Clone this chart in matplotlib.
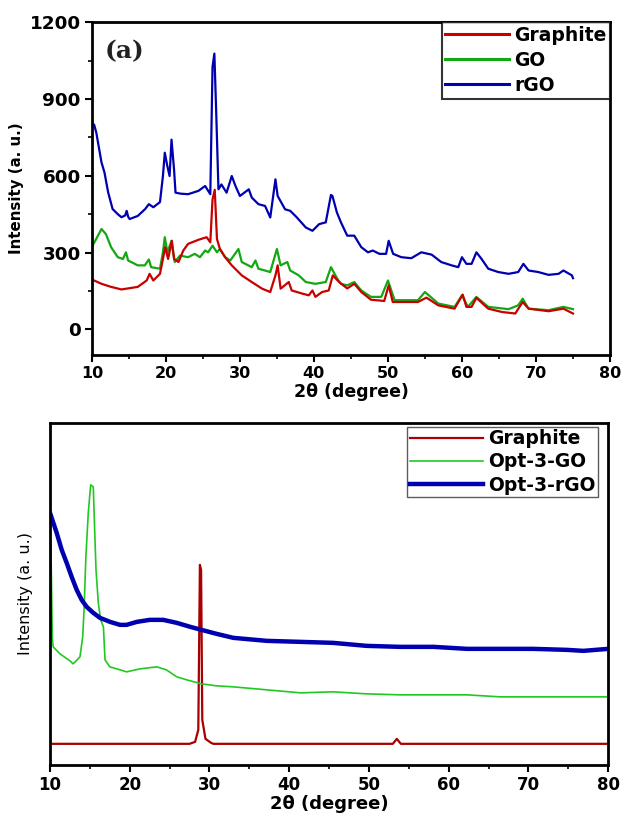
import matplotlib
matplotlib.use("Agg")
import matplotlib.pyplot as plt
from matplotlib.font_manager import FontProperties
from matplotlib.ticker import MultipleLocator, NullLocator

# ---------------- data: panel (a) ----------------
graphite_a = [(10.0, 195), (11.3, 178), (12.6, 166), (14.0, 156), (16.2, 166), (17.4, 191),
              (17.8, 217), (18.3, 191), (19.2, 217), (19.6, 275), (19.9, 321), (20.3, 275),
              (20.8, 346), (21.1, 275), (21.7, 263), (22.35, 308), (23.0, 334), (24.4, 350),
              (25.5, 360), (26.0, 340), (26.3, 508), (26.6, 545), (26.9, 353), (27.3, 314),
              (28.0, 282), (28.9, 250), (30.25, 211), (31.6, 185), (33.0, 159), (34.1, 146),
              (34.8, 211), (35.1, 250), (35.5, 159), (36.6, 185), (37.0, 152), (38.4, 140),
              (39.3, 133), (39.8, 152), (40.2, 127), (41.1, 146), (42.0, 152), (42.55, 211),
              (43.4, 185), (44.5, 160), (45.45, 178), (46.4, 146), (47.7, 116), (49.5, 111),
              (50.1, 172), (50.65, 107), (54.05, 107), (55.2, 124), (56.8, 94), (59.0, 81),
              (60.1, 136), (60.6, 88), (61.3, 88), (61.95, 123), (63.55, 81), (65.4, 68),
              (67.2, 62), (68.2, 107), (69.0, 81), (71.7, 71), (73.7, 81), (75.0, 62)]
go_a = [(10.0, 320), (10.1, 327), (11.3, 392), (11.9, 372), (12.6, 321), (13.5, 282),
        (14.2, 275), (14.6, 301), (14.9, 269), (16.2, 250), (17.15, 250), (17.7, 273),
        (18.0, 243), (19.2, 237), (19.6, 301), (19.85, 360), (20.2, 301), (20.76, 346),
        (21.2, 263), (21.9, 288), (23.0, 282), (23.9, 295), (24.6, 282), (25.3, 308),
        (25.7, 301), (26.3, 327), (26.9, 301), (27.3, 314), (28.0, 282), (28.7, 269),
        (29.8, 314), (30.25, 263), (31.6, 243), (32.1, 269), (32.5, 237), (34.1, 224),
        (35.0, 314), (35.5, 250), (36.4, 263), (36.8, 230), (37.95, 211), (38.9, 185),
        (40.2, 178), (41.6, 185), (42.3, 243), (43.15, 198), (43.65, 178), (44.5, 172),
        (45.45, 185), (46.4, 152), (47.7, 127), (49.1, 127), (50.0, 191), (50.9, 114),
        (54.05, 114), (55.0, 146), (56.8, 101), (59.0, 88), (60.0, 133), (60.8, 88),
        (61.95, 127), (63.55, 88), (66.3, 79), (67.6, 94), (68.2, 120), (69.0, 81),
        (71.7, 75), (73.7, 88), (75.0, 79)]
rgo_a = [(10.0, 790), (10.3, 800), (10.6, 768), (11.3, 652), (11.7, 613), (12.2, 535),
         (12.8, 470), (13.5, 450), (14.0, 438), (14.5, 445), (14.7, 463), (14.9, 440),
         (15.1, 431), (16.2, 443), (17.2, 470), (17.7, 489), (18.3, 477), (19.2, 497),
         (19.6, 599), (19.85, 690), (20.2, 637), (20.5, 599), (20.76, 741), (21.1, 625),
         (21.3, 534), (22.0, 530), (23.0, 528), (24.4, 541), (25.3, 560), (26.0, 528),
         (26.3, 1025), (26.55, 1077), (26.8, 846), (27.1, 547), (27.5, 566), (28.2, 534),
         (28.9, 599), (29.4, 560), (30.0, 521), (31.2, 547), (31.6, 515), (32.5, 489),
         (33.4, 482), (34.1, 437), (34.8, 586), (35.1, 521), (36.1, 469), (36.8, 463),
         (37.7, 437), (38.9, 398), (39.8, 385), (40.7, 411), (41.6, 418), (42.3, 525),
         (42.5, 521), (43.1, 457), (43.65, 418), (44.5, 366), (45.45, 366), (46.4, 321),
         (47.3, 301), (47.95, 308), (48.85, 295), (49.75, 295), (50.1, 346), (50.7, 295),
         (51.8, 282), (53.15, 278), (54.5, 301), (55.9, 292), (57.2, 263), (58.6, 250),
         (59.5, 243), (60.0, 282), (60.6, 256), (61.3, 256), (61.95, 301), (62.65, 275),
         (63.55, 237), (64.9, 224), (66.3, 217), (67.6, 224), (68.3, 256), (69.0, 230),
         (70.3, 224), (71.7, 213), (73.05, 217), (73.7, 230), (74.85, 211), (75.0, 200)]
labels_a = ["Graphite", "GO", "rGO"]
yticks_a = [0, 300, 600, 900, 1200]
xticks = [10, 20, 30, 40, 50, 60, 70, 80]

# ---------------- data: panel (b), arbitrary units ----------------
graphite_b = [(10.0, 21), (27.5, 21), (28.2, 23), (28.6, 35), (28.8, 200), (28.95, 195),
              (29.1, 45), (29.5, 26), (30.2, 22), (30.5, 21), (53.0, 21), (53.5, 26),
              (54.0, 21), (80.0, 21)]
go_b = [(10.0, 240), (10.15, 200), (10.3, 125), (10.4, 118), (11.25, 111), (12.5, 104),
        (12.9, 101), (13.76, 108), (14.1, 128), (14.27, 155), (14.5, 208), (14.8, 252),
        (15.1, 280), (15.43, 278), (15.56, 245), (15.77, 195), (16.06, 162), (16.36, 145),
        (16.7, 138), (16.9, 105), (17.5, 98), (18.8, 95), (19.6, 93), (21.3, 96),
        (23.4, 98), (24.6, 95), (25.9, 88), (27.15, 85), (29.0, 81), (30.9, 79),
        (33.0, 78), (37.2, 75), (41.4, 72), (45.5, 73), (49.7, 71), (53.9, 70),
        (58.1, 70), (62.3, 70), (66.45, 68), (70.6, 68), (74.8, 68), (80.0, 68)]
rgo_b = [(10.0, 252), (10.21, 247), (10.84, 232), (11.47, 215), (12.09, 202), (12.72, 188),
         (13.35, 175), (13.97, 165), (14.6, 158), (15.43, 152), (16.27, 147), (17.53, 143),
         (18.78, 140), (19.6, 140), (20.9, 143), (22.5, 145), (24.2, 145), (25.9, 142),
         (27.6, 138), (29.0, 135), (30.9, 131), (33.0, 127), (37.2, 124), (41.4, 123),
         (45.5, 122), (49.7, 119), (53.9, 118), (58.1, 118), (62.3, 116), (66.45, 116),
         (70.6, 116), (74.8, 115), (76.9, 114), (80.0, 116)]
labels_b = ["Graphite", "Opt-3-GO", "Opt-3-rGO"]

SANS = "DejaVu Sans"


def xy(pairs):
    return [p[0] for p in pairs], [p[1] for p in pairs]


def bold(size):
    return FontProperties(family=SANS, weight="bold", size=size)


fig = plt.figure(figsize=(6.25, 8.18), dpi=100)

# ---------------- panel (a) ----------------
ax1 = fig.add_axes([0.147, 0.566, 0.829, 0.407])
cols_a = ["#C80000", "#12A812", "#0000B0"]
handles = {}
for idx in [1, 0, 2]:
    x, y = xy([graphite_a, go_a, rgo_a][idx])
    handles[idx], = ax1.plot(x, y, color=cols_a[idx], lw=1.6, label=labels_a[idx])
ax1.set_xlim(10, 80)
ax1.set_ylim(-100, 1200)
ax1.set_xticks(xticks)
ax1.set_yticks(yticks_a)
ax1.xaxis.set_minor_locator(MultipleLocator(5))
ax1.yaxis.set_minor_locator(MultipleLocator(150))
ax1.tick_params(which="major", direction="out", length=5, width=1.5, pad=3)
ax1.tick_params(which="minor", direction="out", length=3, width=1.2)
for lab in ax1.get_xticklabels():
    lab.set_fontproperties(bold(11.5))
for lab in ax1.get_yticklabels():
    lab.set_fontproperties(bold(13.2))
for s in ax1.spines.values():
    s.set_linewidth(2)
ax1.set_xlabel("2θ (degree)", fontproperties=bold(12.5), labelpad=1)
ax1.set_ylabel("Intensity (a. u.)", fontproperties=bold(10.8), labelpad=4)
ax1.text(0.025, 0.913, "(a)", transform=ax1.transAxes, fontsize=18,
         family="DejaVu Serif", weight="bold", color="#222222", va="center")
leg1 = ax1.legend([handles[0], handles[1], handles[2]], labels_a,
                  loc="upper right", borderaxespad=0, frameon=True, fancybox=False,
                  prop=bold(13.5), handlelength=3.4, handletextpad=0.25,
                  labelspacing=0.32, borderpad=0.2)
leg1.get_frame().set_edgecolor("black")
leg1.get_frame().set_linewidth(1.5)
for ln in leg1.get_lines():
    ln.set_linewidth(2.2)

# ---------------- panel (b) ----------------
ax2 = fig.add_axes([0.08, 0.065, 0.893, 0.418])
for data, lab, col, lw in zip([graphite_b, go_b, rgo_b], labels_b,
                              ["#A80000", "#22C822", "#0000B0"], [1.6, 1.2, 3.2]):
    x, y = xy(data)
    ax2.plot(x, y, color=col, lw=lw, label=lab)
ax2.set_xlim(10, 80)
ax2.set_ylim(0, 342)
ax2.set_xticks(xticks)
ax2.xaxis.set_minor_locator(MultipleLocator(5))
ax2.yaxis.set_major_locator(NullLocator())
ax2.tick_params(which="major", direction="out", length=5, width=1.5, pad=3)
ax2.tick_params(which="minor", direction="out", length=3, width=1.2)
for lab in ax2.get_xticklabels():
    lab.set_fontproperties(bold(12))
for s in ax2.spines.values():
    s.set_linewidth(2)
ax2.set_xlabel("2θ (degree)", fontproperties=bold(13), labelpad=1)
ax2.set_ylabel("Intensity (a. u.)", fontsize=11.5, labelpad=12, family=SANS)
leg2 = ax2.legend(loc="upper right", bbox_to_anchor=(0.982, 0.988), frameon=True,
                  fancybox=False, prop=bold(13.5), handlelength=3.9,
                  handletextpad=0.3, labelspacing=0.22, borderpad=0.12,
                  borderaxespad=0)
leg2.get_frame().set_edgecolor("#333333")
leg2.get_frame().set_linewidth(1.0)

fig.savefig("out.png", dpi=100)
